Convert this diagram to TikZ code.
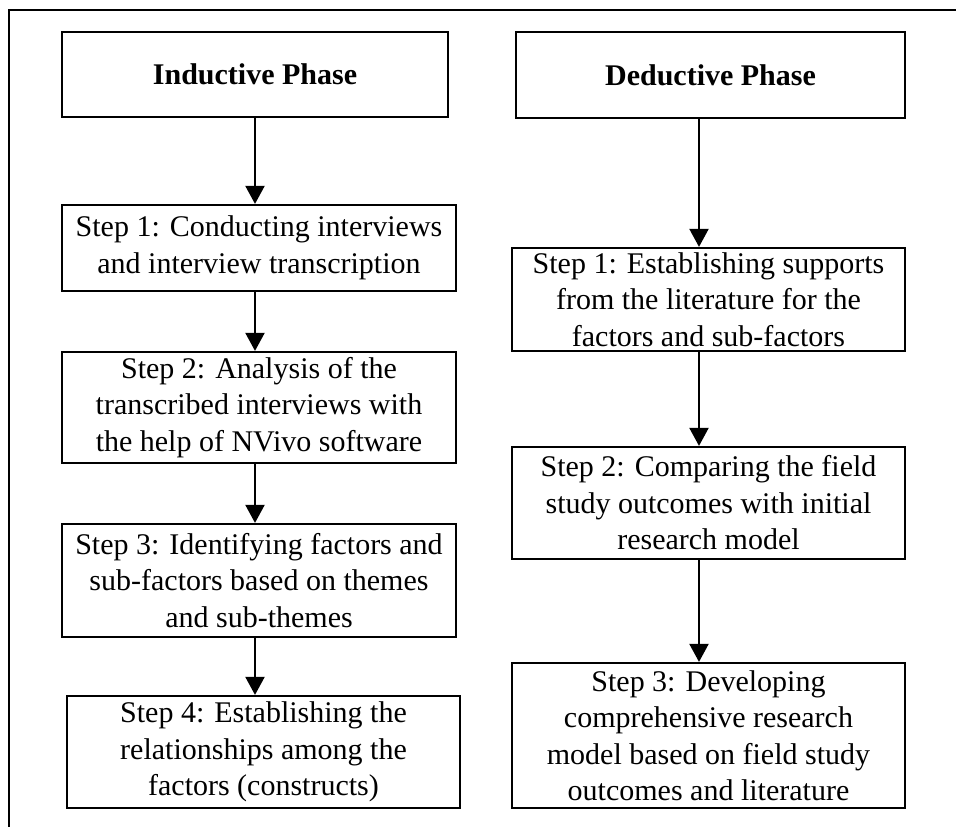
\documentclass[tikz,border=0pt]{standalone}
\usepackage{fontspec}
\setmainfont{Liberation Serif}
\usetikzlibrary{arrows.meta}
\begin{document}
\begin{tikzpicture}[x=1pt,y=-1pt,
  stepbox/.style={draw, line width=2.2pt, rectangle, inner sep=0pt, align=center,
    font=\fontsize{30}{36.5}\selectfont},
  headbox/.style={stepbox, font=\fontsize{30}{36.5}\selectfont\bfseries},
  flow/.style={line width=2pt, -{Triangle[width=19pt,length=18pt]}}]
\useasboundingbox (0,0) rectangle (956,827);
\clip (0,0) rectangle (956,827);
% outer frame (runs off the right and bottom edges)
\draw[line width=2.2pt] (9,10) rectangle (970,840);

% inductive column
\node[headbox, minimum width=386pt, minimum height=85pt] (head1) at (255,74.5) {Inductive Phase};
\node[stepbox, minimum width=394pt, minimum height=86pt] (L1) at (259,248)
  {Step 1: Conducting interviews\\and interview transcription};
\node[stepbox, minimum width=394pt, minimum height=111pt] (L2) at (259,407.5)
  {Step 2: Analysis of the\\transcribed interviews with\\the help of NVivo software};
\node[stepbox, minimum width=394pt, minimum height=113pt] (L3) at (259,580.5)
  {Step 3: Identifying factors and\\sub-factors based on themes\\and sub-themes};
\node[stepbox, minimum width=393pt, minimum height=112pt] (L4) at (263.5,752)
  {Step 4: Establishing the\\relationships among the\\factors (constructs)};

% deductive column
\node[headbox, minimum width=389pt, minimum height=86pt] (head2) at (710.5,75) {Deductive Phase};
\node[stepbox, minimum width=393pt, minimum height=103pt] (R1) at (708.5,299.5)
  {Step 1: Establishing supports\\from the literature for the\\factors and sub-factors};
\node[stepbox, minimum width=393pt, minimum height=112pt] (R2) at (708.5,503)
  {Step 2: Comparing the field\\study outcomes with initial\\research model};
\node[stepbox, minimum width=393pt, minimum height=145pt] (R3) at (708.5,735.5)
  {Step 3: Developing\\comprehensive research\\model based on field study\\outcomes and literature};

% arrow lines
\coordinate (lx) at (255,0);
\coordinate (rx) at (699,0);
\draw[flow] (head1.south -| lx) -- (L1.north -| lx);
\draw[flow] (L1.south -| lx) -- (L2.north -| lx);
\draw[flow] (L2.south -| lx) -- (L3.north -| lx);
\draw[flow] (L3.south -| lx) -- (L4.north -| lx);
\draw[flow] (head2.south -| rx) -- (R1.north -| rx);
\draw[flow] (R1.south -| rx) -- (R2.north -| rx);
\draw[flow] (R2.south -| rx) -- (R3.north -| rx);
\end{tikzpicture}
\end{document}
